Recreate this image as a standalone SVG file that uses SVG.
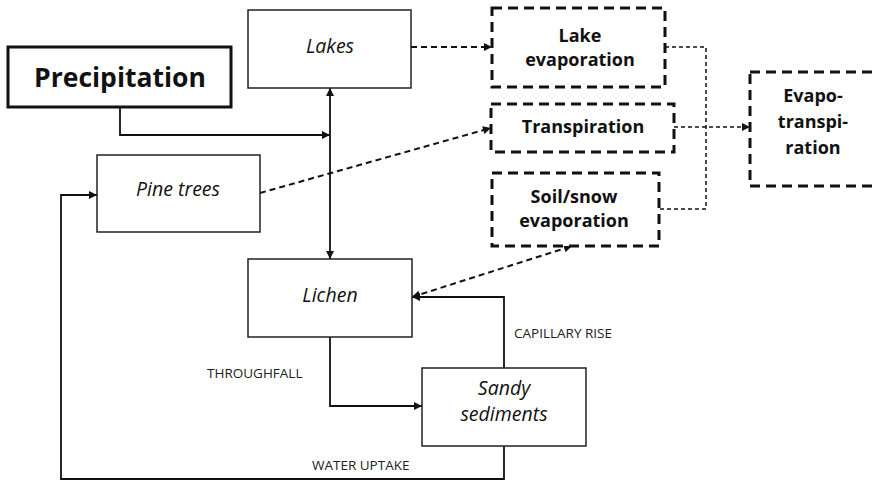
<svg xmlns="http://www.w3.org/2000/svg" width="874" height="482" viewBox="0 0 874 482">
<defs>
<style>
.box{fill:#fff;stroke:#222;stroke-width:1.5}
.pbox{fill:#fff;stroke:#111;stroke-width:3}
.dbox{fill:#fff;stroke:#111;stroke-width:3;stroke-dasharray:10 6}
.it{font-family:"Open Sans","Liberation Sans",sans-serif;font-style:italic;font-size:19.5px;fill:#111;text-anchor:middle}
.bd{font-family:"Open Sans","Liberation Sans",sans-serif;font-weight:bold;font-size:18px;fill:#111;text-anchor:middle}
.lbl{font-family:"Open Sans","Liberation Sans",sans-serif;font-size:13.5px;fill:#222}
.solid{fill:none;stroke:#111;stroke-width:1.8}
.dash{fill:none;stroke:#111;stroke-width:2;stroke-dasharray:6 4}
.thin{fill:none;stroke:#111;stroke-width:1.5;stroke-dasharray:4 3}
</style>
<marker id="ah" viewBox="0 0 10 10" refX="10" refY="5" markerWidth="10" markerHeight="8" markerUnits="userSpaceOnUse" orient="auto-start-reverse">
<path d="M0,0 L10,5 L0,10 z" fill="#111"/>
</marker>
</defs>
<rect width="874" height="482" fill="#fff"/>
<g id="connectors">
<path class="solid" d="M120,107 V135 H330" marker-end="url(#ah)"/>
<path class="solid" d="M330,88 V259" marker-start="url(#ah)" marker-end="url(#ah)"/>
<path class="solid" d="M330,337 V406 H422" marker-end="url(#ah)"/>
<path class="solid" d="M504,368 V297 H412" marker-end="url(#ah)"/>
<path class="solid" d="M504,446 V479 H61 V195 H97" marker-end="url(#ah)"/>
<path class="dash" d="M411,47 H492" marker-end="url(#ah)"/>
<path class="dash" d="M260,193 L491,128" marker-end="url(#ah)"/>
<path class="dash" d="M412,297 L572,246" marker-start="url(#ah)" marker-end="url(#ah)"/>
<path class="thin" d="M674,127 H750" marker-end="url(#ah)"/>
<path class="thin" d="M665,47 H706 V209 H659"/>
</g>
<g id="lake-evaporation">
<rect class="dbox" x="492" y="8" width="173" height="79"/>
<text class="bd" x="580" y="42">Lake</text>
<text class="bd" x="580" y="66">evaporation</text>
</g>
<g id="transpiration">
<rect class="dbox" x="491" y="104" width="183" height="48"/>
<text class="bd" x="583" y="133">Transpiration</text>
</g>
<g id="soil-snow-evaporation">
<rect class="dbox" x="492" y="173" width="167" height="73"/>
<text class="bd" x="574" y="203">Soil/snow</text>
<text class="bd" x="574" y="227">evaporation</text>
</g>
<g id="evapotranspiration">
<rect class="dbox" x="750" y="72" width="140" height="114"/>
<text class="bd" x="813" y="102">Evapo-</text>
<text class="bd" x="813" y="128">transpi-</text>
<text class="bd" x="813" y="154">ration</text>
</g>
<g id="precipitation">
<rect class="pbox" x="8" y="47" width="223" height="60"/>
<text x="120" y="87" style="font-family:'Open Sans','Liberation Sans',sans-serif;font-weight:bold;font-size:26.5px;fill:#111;text-anchor:middle">Precipitation</text>
</g>
<g id="lakes">
<rect class="box" x="248" y="10" width="163" height="78"/>
<text class="it" x="330" y="53">Lakes</text>
</g>
<g id="pine-trees">
<rect class="box" x="97" y="155" width="163" height="77"/>
<text class="it" x="178" y="196">Pine trees</text>
</g>
<g id="lichen">
<rect class="box" x="248" y="259" width="164" height="78"/>
<text class="it" x="330" y="302">Lichen</text>
</g>
<g id="sandy-sediments">
<rect class="box" x="422" y="368" width="164" height="78"/>
<text class="it" x="504" y="395">Sandy</text>
<text class="it" x="504" y="421">sediments</text>
</g>
<g id="labels">
<text class="lbl" x="207" y="378">THROUGHFALL</text>
<text class="lbl" x="514" y="338">CAPILLARY RISE</text>
<text class="lbl" x="312" y="470">WATER UPTAKE</text>
</g>
</svg>
